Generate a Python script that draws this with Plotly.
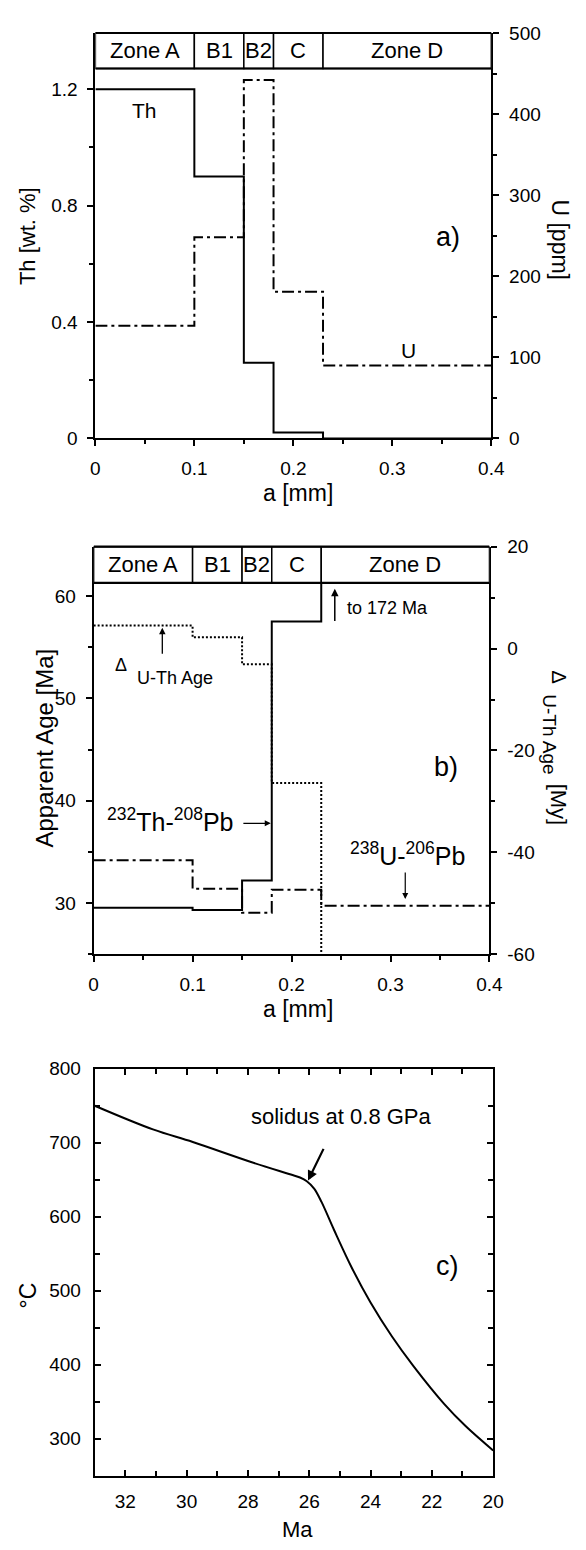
import plotly.graph_objects as go

W, H = 586, 1550

# ---------------- data ----------------
zone_edges = [0.0, 0.10, 0.15, 0.18, 0.23, 0.40]
zone_names = ["Zone A", "B1", "B2", "C", "Zone D"]

# panel a
th_wt = [1.20, 0.90, 0.26, 0.02, 0.0]
u_ppm = [139, 248, 442, 181, 90]

# panel b
age_th_pb = [29.56, 29.33, 32.2, 57.5, 172.0]
age_u_pb = [34.18, 31.4, 29.07, 31.3, 29.75]
delta_u_th = [4.5, 2.2, -3.1, -26.4, -142.0]

# panel c
ma = [33.0, 31.1, 29.8, 27.9, 26.6, 26.3, 26.08, 25.84, 25.6, 25.19, 24.6, 24.0, 23.3, 22.6, 21.6, 20.9, 20.0]
temp_c = [750, 718, 701, 674, 657, 653, 648, 638, 620, 582, 530, 484, 438, 398, 347, 317, 284]

a_ticks = [0, 0.1, 0.2, 0.3, 0.4]
a_ticktext = ["0", "0.1", "0.2", "0.3", "0.4"]
th_ticks = [0, 0.4, 0.8, 1.2]
th_ticktext = ["0", "0.4", "0.8", "1.2"]
u_ticks = [0, 100, 200, 300, 400, 500]
u_ticktext = ["0", "100", "200", "300", "400", "500"]
age_ticks = [30, 40, 50, 60]
age_ticktext = ["30", "40", "50", "60"]
d_ticks = [-60, -40, -20, 0, 20]
d_ticktext = ["-60", "-40", "-20", "0", "20"]
ma_ticks = [32, 30, 28, 26, 24, 22, 20]
ma_ticktext = ["32", "30", "28", "26", "24", "22", "20"]
t_ticks = [300, 400, 500, 600, 700, 800]
t_ticktext = ["300", "400", "500", "600", "700", "800"]


def step(vals):
    return list(vals) + [vals[-1]]


def P(x, y):
    return x / W, 1 - y / H


FONT = "Liberation Sans, Arial, sans-serif"
fig = go.Figure()

UDASH = "12px,4px,3px,4px"
DOT = "2px,2px"

# panel a traces
fig.add_trace(go.Scatter(x=zone_edges, y=step(th_wt), mode="lines", line_shape="hv",
                         line=dict(color="black", width=2), xaxis="x", yaxis="y"))
fig.add_trace(go.Scatter(x=zone_edges, y=step(u_ppm), mode="lines", line_shape="hv",
                         line=dict(color="black", width=2, dash=UDASH), xaxis="x", yaxis="y2"))
# panel b traces
fig.add_trace(go.Scatter(x=zone_edges, y=step(age_th_pb), mode="lines", line_shape="hv",
                         line=dict(color="black", width=2), xaxis="x2", yaxis="y3"))
fig.add_trace(go.Scatter(x=zone_edges, y=step(age_u_pb), mode="lines", line_shape="hv",
                         line=dict(color="black", width=2, dash=UDASH), xaxis="x2", yaxis="y3"))
fig.add_trace(go.Scatter(x=zone_edges, y=step(delta_u_th), mode="lines", line_shape="hv",
                         line=dict(color="black", width=2, dash=DOT), xaxis="x2", yaxis="y4"))
# panel c trace
fig.add_trace(go.Scatter(x=ma, y=temp_c, mode="lines", line_shape="spline",
                         line=dict(color="black", width=2, smoothing=1.0), xaxis="x3", yaxis="y5"))


def axis_common(**kw):
    d = dict(showgrid=False, zeroline=False, showline=True, linecolor="black", linewidth=2,
             ticks="outside", ticklen=6, tickwidth=1.5, tickcolor="black",
             tickfont=dict(family=FONT, size=19, color="black"))
    d.update(kw)
    return d


minor_out = lambda dt, t0: dict(ticks="outside", ticklen=4, tickwidth=1.5, tickcolor="black", dtick=dt, tick0=t0, showgrid=False)
minor_in = lambda dt, t0: dict(ticks="inside", ticklen=5, tickwidth=1.5, tickcolor="black", dtick=dt, tick0=t0, showgrid=False)

fig.update_layout(
    width=W, height=H, margin=dict(l=0, r=0, t=0, b=0),
    paper_bgcolor="white", plot_bgcolor="white", showlegend=False,
    font=dict(family=FONT, color="black"),
    xaxis=axis_common(domain=[93.4 / W, 502.6 / W], anchor="y", range=[0, 0.4],
                      tickvals=a_ticks, ticktext=a_ticktext, minor=minor_out(0.05, 0), ticklabelstandoff=6),
    yaxis=axis_common(domain=[1 - 434.3 / H, 1 - 23.3 / H], anchor="x", range=[0, 1.3932],
                      tickvals=th_ticks, ticktext=th_ticktext, minor=minor_out(0.2, 0), ticklabelstandoff=6),
    yaxis2=axis_common(overlaying="y", side="right", anchor="x", range=[0, 500],
                       tickvals=u_ticks, ticktext=u_ticktext, minor=minor_out(50, 0), ticklabelstandoff=6),
    xaxis2=axis_common(domain=[91.6 / W, 500.7 / W], anchor="y3", range=[0, 0.4],
                       tickvals=a_ticks, ticktext=a_ticktext, minor=minor_out(0.05, 0), ticklabelstandoff=6),
    yaxis3=axis_common(domain=[1 - 957.3 / H, 1 - 544 / H], anchor="x2", range=[25, 64.82],
                       tickvals=age_ticks, ticktext=age_ticktext, minor=minor_out(5, 25), ticklabelstandoff=6),
    yaxis4=axis_common(overlaying="y3", side="right", anchor="x2", range=[-60, 20],
                       tickvals=d_ticks, ticktext=d_ticktext, minor=minor_out(10, 0), ticklabelstandoff=6),
    xaxis3=axis_common(domain=[92.7 / W, 504.5 / W], anchor="y5", range=[33, 20], ticks="inside",
                       mirror="ticks", tickvals=ma_ticks, ticktext=ma_ticktext, minor=minor_in(1, 20),
                       ticklabelstandoff=8),
    yaxis5=axis_common(domain=[1 - 1485.7 / H, 1 - 1073.3 / H], anchor="x3", range=[250, 800], ticks="inside",
                       mirror="ticks", tickvals=t_ticks, ticktext=t_ticktext, minor=minor_in(50, 250),
                       ticklabelstandoff=8),
)

shapes = []
annotations = []

# zone bands
for xr, yr, ybot in (("x", "y", 0.9124), ("x2", "y3", 0.9112)):
    for i, name in enumerate(zone_names):
        shapes.append(dict(type="rect", xref=xr, yref=yr + " domain", x0=zone_edges[i], x1=zone_edges[i + 1],
                           y0=ybot, y1=1, fillcolor="white", line=dict(color="black", width=1.5), layer="above"))
        annotations.append(dict(xref=xr, yref=yr + " domain", x=(zone_edges[i] + zone_edges[i + 1]) / 2,
                                y=(ybot + 1) / 2, text=name, showarrow=False,
                                font=dict(size=22, family=FONT, color="black"), xanchor="center", yanchor="middle"))
    shapes.append(dict(type="line", xref=xr, yref=yr + " domain", x0=zone_edges[0], x1=zone_edges[-1],
                       y0=ybot, y1=ybot, line=dict(color="black", width=2.2), layer="above"))
    shapes.append(dict(type="line", xref=xr, yref=yr + " domain", x0=zone_edges[0], x1=zone_edges[-1],
                       y0=1, y1=1, line=dict(color="black", width=2.2), layer="above"))


def text_px(x, y, text, size, xanchor="center", yanchor="middle", angle=0):
    px_, py_ = P(x, y)
    annotations.append(dict(xref="paper", yref="paper", x=px_, y=py_, text=text, showarrow=False,
                            textangle=angle, xanchor=xanchor, yanchor=yanchor,
                            font=dict(size=size, family=FONT, color="black")))


def arrow(xr, yr, x, y, ax, ay, width=1.3, size=1.0, head=2):
    annotations.append(dict(xref=xr, yref=yr, axref=xr, ayref=yr, x=x, y=y, ax=ax, ay=ay, text="",
                            showarrow=True, arrowhead=head, arrowsize=size, arrowwidth=width, arrowcolor="black"))


# panel a texts
text_px(24, 229, "Th [wt. %]", 22, angle=-90)
text_px(574, 233, "U [ppm]", 23, angle=90)
text_px(302.7, 490, "a [mm]", 23)
text_px(144, 102, "Th", 21)
text_px(417, 345, "U", 21)
text_px(457.8, 230, "a)", 27)

# panel b texts
text_px(41, 748, "Apparent Age [Ma]", 24, angle=-90)
text_px(573, 676, "Δ", 20, angle=90)
text_px(563, 734, "U-Th Age", 19, angle=90)
text_px(572, 806, "[My]", 22, angle=90)
text_px(302.7, 1013, "a [mm]", 23)
text_px(455.9, 767, "b)", 27)
text_px(351, 606, "to 172 Ma", 18, xanchor="left")
text_px(112, 664, "Δ", 18, xanchor="left")
text_px(134, 677, "U-Th Age", 18, xanchor="left")
text_px(171, 821, "<sup>232</sup>Th-<sup>208</sup>Pb", 25)
text_px(416, 856, "<sup>238</sup>U-<sup>206</sup>Pb", 25)

arrow("x2", "y3", 0.2437, 60.7, 0.2437, 57.4, width=1.5)
arrow("x2", "y3", 0.0694, 56.9, 0.0694, 54.2, width=1.3)
arrow("x2", "y3", 0.179, 37.8, 0.1498, 37.8, width=1.2)
arrow("x2", "y3", 0.3149, 30.4, 0.3149, 33.15, width=1.2)

# panel c texts
text_px(24, 1303, "°C", 23, angle=-90)
text_px(302.7, 1540, "Ma", 22)
text_px(457.8, 1273, "c)", 27)
text_px(347.6, 1122, "solidus at 0.8 GPa", 22)
arrow("x3", "y5", 26.04, 648.8, 25.51, 693.7, width=2.2, size=0.9)

fig.update_layout(shapes=shapes, annotations=annotations)
fig.write_html("out.html")
